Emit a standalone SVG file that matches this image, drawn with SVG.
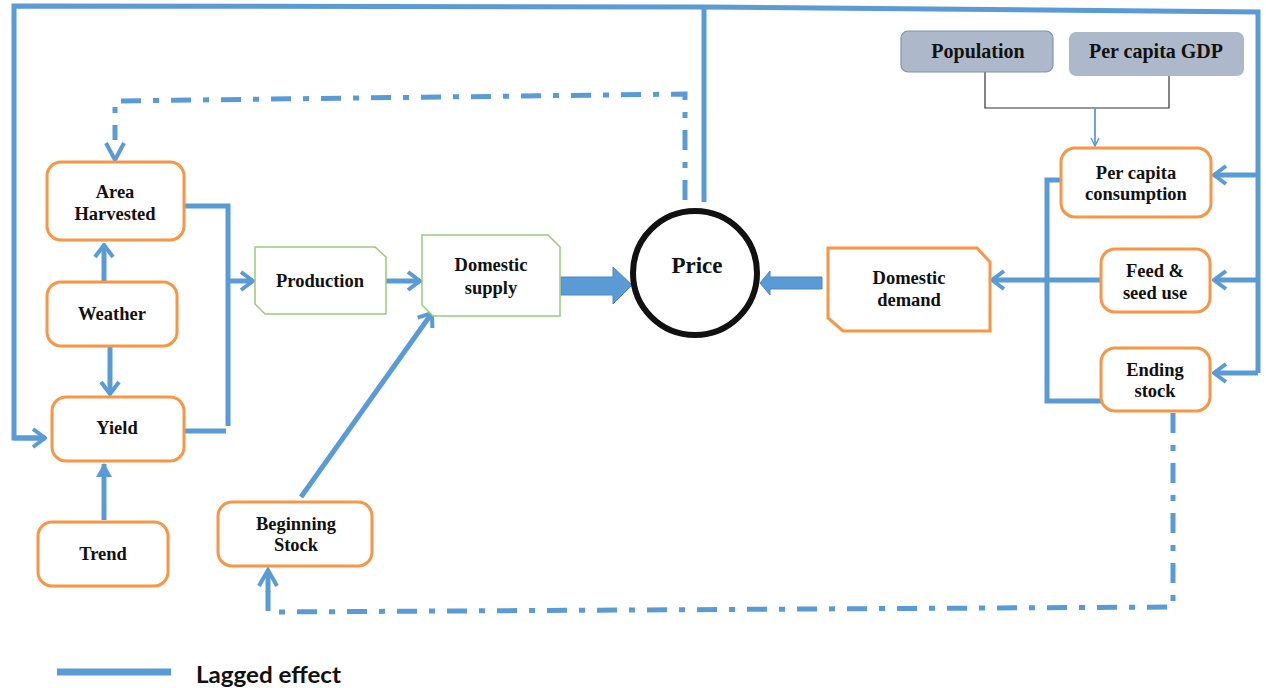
<svg xmlns="http://www.w3.org/2000/svg" width="1266" height="688" viewBox="0 0 1266 688">
<style>
.ob{fill:#fff;stroke:#F79646;stroke-width:3}
.gb{fill:#fff;stroke:#9BC97A;stroke-width:1.5}
.gray{fill:#ADB9CA}
.t{font-family:"Liberation Serif",serif;font-weight:bold;font-size:18.5px;fill:#111;text-anchor:middle}
.ln{fill:none;stroke:#5B9BD5;stroke-width:5}
.dd{fill:none;stroke:#5B9BD5;stroke-width:5;stroke-dasharray:20 12 6 12}
.thin{fill:none;stroke:#333;stroke-width:1.2}
</style>
<defs>
<marker id="ch" viewBox="0 0 16 22" refX="14" refY="11" markerWidth="16" markerHeight="22" markerUnits="userSpaceOnUse" orient="auto">
<path d="M2,2 L14,11 L2,20" fill="none" stroke="#5B9BD5" stroke-width="4"/>
</marker>
<marker id="tri" viewBox="0 0 14 16" refX="13" refY="8" markerWidth="14" markerHeight="16" markerUnits="userSpaceOnUse" orient="auto">
<path d="M0,0 L14,8 L0,16 Z" fill="#5B9BD5"/>
</marker>
<marker id="sm" viewBox="0 0 10 10" refX="9" refY="5" markerWidth="10" markerHeight="10" markerUnits="userSpaceOnUse" orient="auto">
<path d="M1,1 L9,5 L1,9" fill="none" stroke="#5B9BD5" stroke-width="1.5"/>
</marker>
</defs>
<rect width="1266" height="688" fill="#fff"/>

<g id="connectors">
<polyline class="ln" points="45,438 14,438 14,6 704,7 1258,12 1258,373"/>
<line class="ln" x1="14" y1="438" x2="45" y2="438" marker-end="url(#ch)"/>
<line class="ln" x1="704" y1="7" x2="704" y2="202"/>
<line class="ln" x1="1258" y1="175" x2="1214" y2="175" marker-end="url(#ch)"/>
<line class="ln" x1="1258" y1="280" x2="1214" y2="280" marker-end="url(#ch)"/>
<line class="ln" x1="1258" y1="373" x2="1214" y2="373" marker-end="url(#ch)"/>
<polyline class="dd" points="685,200 685,94 115,101 115,140"/>
<path d="M106,143 L115,160 L124,143" fill="none" stroke="#5B9BD5" stroke-width="4"/>
<polyline class="dd" points="1173,413 1173,607 268,612 268,590"/>
<path d="M259,586 L268,570 L277,586" fill="none" stroke="#5B9BD5" stroke-width="4"/>
<line class="ln" x1="268" y1="592" x2="268" y2="572"/>
<line class="ln" x1="104" y1="282" x2="104" y2="245" marker-end="url(#ch)"/>
<line class="ln" x1="110" y1="346" x2="110" y2="394" marker-end="url(#ch)"/>
<line class="ln" x1="104" y1="520" x2="104" y2="464" marker-end="url(#tri)"/>
<polyline class="ln" points="184,206 228,206 228,426"/>
<line class="ln" x1="184" y1="431" x2="226" y2="431"/>
<line class="ln" x1="228" y1="281" x2="253" y2="281" marker-end="url(#ch)"/>
<line class="ln" x1="386" y1="281" x2="420" y2="281" marker-end="url(#ch)"/>
<line class="ln" x1="301" y1="497" x2="432" y2="313" marker-end="url(#ch)"/>
<path d="M561,277 L613,277 L613,267 L632,285 L613,304 L613,295 L561,295 Z" fill="#5B9BD5" stroke="#4A87C2" stroke-width="1"/>
<path d="M822,277 L770,277 L770,271 L760,283 L770,295 L770,289 L822,289 Z" fill="#5B9BD5" stroke="#4A87C2" stroke-width="1"/>
<line class="ln" x1="1101" y1="280" x2="992" y2="280" marker-end="url(#ch)"/>
<polyline class="ln" points="1061,180 1047,180 1047,401 1101,401"/>
<polyline class="thin" points="985,72 985,108 1169,108 1169,76"/>
<line x1="1095" y1="108" x2="1095" y2="146" stroke="#5B9BD5" stroke-width="1.8" marker-end="url(#sm)"/>
</g>

<g id="area-harvested"><rect class="ob" x="47" y="162" width="137" height="78" rx="14"/><text class="t" x="115" y="198">Area</text><text class="t" x="115" y="220">Harvested</text></g>
<g id="weather"><rect class="ob" x="47" y="282" width="130" height="64" rx="14"/><text class="t" x="112" y="320">Weather</text></g>
<g id="yield"><rect class="ob" x="52" y="397" width="132" height="64" rx="14"/><text class="t" x="117" y="434">Yield</text></g>
<g id="trend"><rect class="ob" x="38" y="522" width="130" height="64" rx="14"/><text class="t" x="103" y="560">Trend</text></g>
<g id="beginning-stock"><rect class="ob" x="218" y="502" width="154" height="64" rx="14"/><text class="t" x="296" y="530">Beginning</text><text class="t" x="296" y="551">Stock</text></g>
<g id="production"><path class="gb" d="M255,247 L375,247 L386,257 L386,314 L265,314 L255,304 Z"/><text class="t" x="320" y="287">Production</text></g>
<g id="domestic-supply"><path class="gb" d="M422,235 L548,235 L560,247 L560,316 L433,316 L422,305 Z"/><text class="t" x="491" y="271">Domestic</text><text class="t" x="491" y="294">supply</text></g>
<g id="price"><circle cx="695" cy="273" r="62" fill="#fff" stroke="#111" stroke-width="6"/><text class="t" x="697" y="273" style="font-size:23px">Price</text></g>
<g id="domestic-demand"><path class="ob" d="M828,248 L977,248 L990,262 L990,331 L843,331 L828,318 Z"/><text class="t" x="909" y="284">Domestic</text><text class="t" x="909" y="306">demand</text></g>
<g id="per-capita-consumption"><rect class="ob" x="1061" y="148" width="150" height="69" rx="14"/><text class="t" x="1136" y="179">Per capita</text><text class="t" x="1136" y="200">consumption</text></g>
<g id="feed-seed"><rect class="ob" x="1101" y="249" width="109" height="63" rx="14"/><text class="t" x="1155" y="277">Feed &amp;</text><text class="t" x="1155" y="299">seed use</text></g>
<g id="ending-stock"><rect class="ob" x="1101" y="348" width="109" height="63" rx="14"/><text class="t" x="1155" y="376">Ending</text><text class="t" x="1155" y="397">stock</text></g>
<g id="population"><rect class="gray" x="901" y="31" width="152" height="41" rx="7" stroke="#7F93AD" stroke-width="1.2"/><text class="t" x="978" y="58" style="font-size:20px">Population</text></g>
<g id="per-capita-gdp"><rect class="gray" x="1069" y="32" width="175" height="44" rx="7"/><text class="t" x="1156" y="58" style="font-size:20px">Per capita GDP</text></g>

<g id="legend">
<line x1="57" y1="672" x2="171" y2="672" stroke="#5B9BD5" stroke-width="7"/>
<text x="196" y="683" font-family="Lato, 'Liberation Sans', sans-serif" font-weight="bold" font-size="23" fill="#111" textLength="145" lengthAdjust="spacingAndGlyphs">Lagged effect</text>
</g>
</svg>
